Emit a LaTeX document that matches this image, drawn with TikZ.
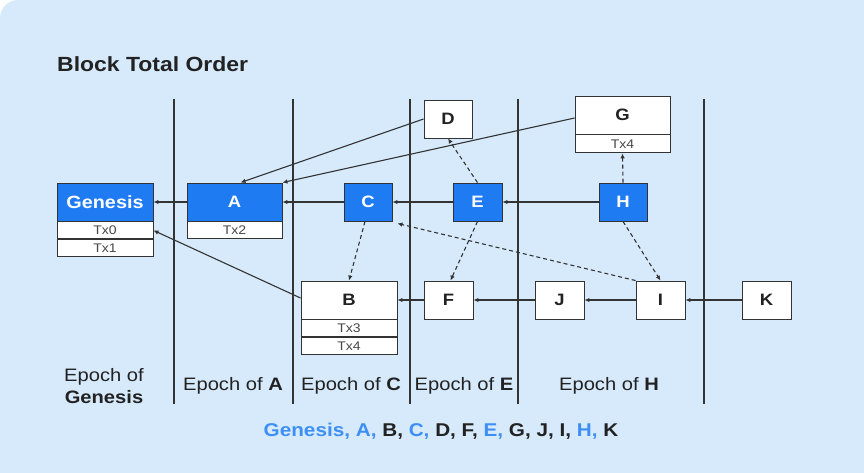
\documentclass[tikz,border=0pt]{standalone}
\usepackage{fontspec}
\setmainfont[FakeStretch=1.12]{Liberation Sans}
\usetikzlibrary{arrows.meta,calc}
\definecolor{bg}{HTML}{D6EAFC}
\definecolor{blk}{HTML}{1F7BF2}
\definecolor{seqblue}{HTML}{3D8EF5}
\definecolor{ink}{HTML}{222222}
\definecolor{edgec}{HTML}{333333}
\definecolor{txc}{HTML}{484848}
\begin{document}
\begin{tikzpicture}[x=1pt,y=-1pt,
  blockbase/.style={draw=edgec,line width=0.9pt,inner sep=0pt,minimum height=38pt,font=\fontsize{16.5}{18}\selectfont\bfseries},
  blueblock/.style={blockbase,fill=blk,text=white},
  whiteblock/.style={blockbase,fill=white,text=ink},
  txrow/.style={draw=edgec,line width=0.9pt,fill=white,inner sep=0pt,minimum height=17pt,anchor=north,text=txc,font=\fontsize{12.5}{14}\selectfont},
  link/.style={draw=edgec,line width=1.1pt,-{Latex[length=5pt,width=4.5pt]}},
  dlink/.style={link,dash pattern=on 4pt off 3pt},
  epochline/.style={draw=edgec,line width=1.1pt},
  epoch/.style={font=\fontsize{18}{21}\selectfont,text=ink,anchor=base,inner sep=0pt}
]
\useasboundingbox (0,0) rectangle (864,472);
\clip (0,0) rectangle (864,472);
\fill[white] (0,0) rectangle (864,472);
\fill[bg, rounded corners=18pt] (0,0) rectangle (885,500);

% title
\node[font=\fontsize{20.5}{24}\selectfont\bfseries, text=ink, anchor=base west, inner sep=0pt] (title) at (57,71) {Block Total Order};

% epoch separators
\foreach \xx in {174,293,410,518,704} \draw[epochline] (\xx,99) -- (\xx,404);

% blocks
\node[blueblock, minimum width=96pt, font=\fontsize{17.7}{20}\selectfont\bfseries] (gen) at (105,202) {Genesis};
\node[txrow, minimum width=96pt] (gtx0) at (gen.south) {Tx0};
\node[txrow, minimum width=96pt] (gtx1) at (gtx0.south) {Tx1};

\node[blueblock, minimum width=95pt] (A) at (234.5,202) {A};
\node[txrow, minimum width=95pt] (atx) at (A.south) {Tx2};

\node[blueblock, minimum width=48pt] (C) at (368,202) {C};
\node[blueblock, minimum width=49pt] (E) at (477.5,202) {E};
\node[blueblock, minimum width=48pt] (H) at (623,202) {H};

\node[whiteblock, minimum width=48pt] (D) at (448,119) {D};
\node[whiteblock, minimum width=95pt] (G) at (622.5,115) {G};
\node[txrow, minimum width=95pt, minimum height=18pt] (gtx) at (G.south) {Tx4};

\node[whiteblock, minimum width=96pt] (B) at (349,300) {B};
\node[txrow, minimum width=96pt] (btx3) at (B.south) {Tx3};
\node[txrow, minimum width=96pt] (btx4) at (btx3.south) {Tx4};

\node[whiteblock, minimum width=49pt] (F) at (448.5,300) {F};
\node[whiteblock, minimum width=49pt] (J) at (559.5,300) {J};
\node[whiteblock, minimum width=49pt] (I) at (660.5,300) {I};
\node[whiteblock, minimum width=49pt] (K) at (766.5,300) {K};

% solid links
\draw[link] (A) -- (gen);
\draw[link] (C) -- (A);
\draw[link] (E) -- (C);
\draw[link] (H) -- (E);
\draw[link] (F) -- (B);
\draw[link] (J) -- (F);
\draw[link] (I) -- (J);
\draw[link] (K) -- (I);
\draw[link] (D.west) -- ([xshift=6pt]A.north);
\draw[link] ([yshift=-3pt]G.west) -- (A.north east);
\draw[link] ([yshift=2pt]B.west) -- (gtx0.east);

% dashed links
\draw[dlink] ([xshift=-3pt]C.south) -- (B.north);
\draw[dlink] (E.north) -- (D.south);
\draw[dlink] (E.south) -- ([xshift=2pt]F.north);
\draw[dlink] (H.north) -- (gtx.south);
\draw[dlink] (H.south) -- (I.north);
\draw[dlink] (I.north west) -- ($(C.south east)+(5,2)$);

% epoch labels
\node[epoch] (epg1) at (104,381.7) {Epoch of};
\node[epoch] (epg2) at (104,403.3) {\bfseries Genesis};
\node[epoch] (epa) at (233,390.7) {Epoch of \textbf{A}};
\node[epoch] (epc) at (351,390.7) {Epoch of \textbf{C}};
\node[epoch] (epe) at (464,390.7) {Epoch of \textbf{E}};
\node[epoch] (eph) at (609,390.7) {Epoch of \textbf{H}};

% order
\node[anchor=base, inner sep=0pt, text=ink, font=\fontsize{18.5}{22}\selectfont\bfseries] (seq) at (441,436)
  {\textcolor{seqblue}{Genesis, A,} B, \textcolor{seqblue}{C,} D, F, \textcolor{seqblue}{E,} G, J, I, \textcolor{seqblue}{H,} K};
\end{tikzpicture}
\end{document}
